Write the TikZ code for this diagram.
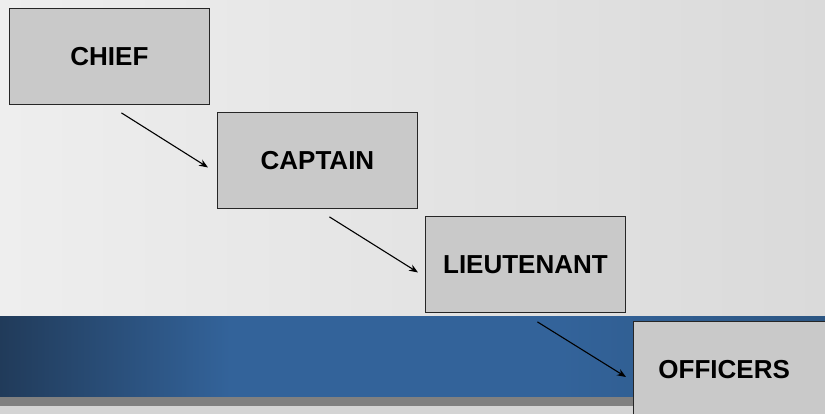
\documentclass[tikz,border=0pt]{standalone}
\usepackage{fontspec}
\setmainfont{Liberation Sans}
\usetikzlibrary{arrows.meta}

\definecolor{bgLeft}{HTML}{EEEEEE}
\definecolor{bgRight}{HTML}{DADADA}
\definecolor{boxGray}{HTML}{C9C9C9}
\definecolor{bandDark}{HTML}{213B5A}
\definecolor{bandMid}{HTML}{33639A}
\definecolor{bandEdge}{HTML}{2C5683}
\definecolor{stripGray}{HTML}{808080}
\definecolor{footGray}{HTML}{D4D4D4}

\begin{document}
\begin{tikzpicture}[x=1pt, y=-1pt, >={Stealth[length=9pt, width=7pt]},
    rankbox/.style={draw=black!85, fill=boxGray, line width=0.9pt,
        minimum width=200pt, minimum height=96pt, inner sep=0pt,
        anchor=north west, font=\fontsize{26}{30}\selectfont\bfseries},
    step line/.style={->, line width=1.1pt}]
    \useasboundingbox (0,0) rectangle (825,414);
    \clip (0,0) rectangle (825,414);

    % Background and blue band
    \shade[left color=bgLeft, right color=bgRight] (0,0) rectangle (825,414);
    \shade[left color=bandDark, right color=bandMid] (0,316) rectangle (230,397);
    \fill[bandMid] (230,316) rectangle (560,397);
    \shade[left color=bandMid, right color=bandEdge] (560,316) rectangle (825,397);
    \fill[stripGray] (0,397) rectangle (825,406);
    \fill[footGray] (0,406) rectangle (825,414);

    % Ranks
    \node[rankbox] (chief) at (9,8) {CHIEF};
    \node[rankbox] (captain) at (217,112) {CAPTAIN};
    \node[rankbox] (lieut) at (425,216) {LIEUTENANT};
    \node[rankbox, text width=175pt, align=left, inner xsep=25pt] (officers) at (633,321) {OFFICERS};

    % Steps down
    \coordinate (s1) at ([shift={(12,8)}]chief.south);
    \coordinate (e1) at ([shift={(-9,7)}]captain.west);
    \coordinate (s2) at ([shift={(12,8)}]captain.south);
    \coordinate (e2) at ([shift={(-7,8)}]lieut.west);
    \coordinate (s3) at ([shift={(12,9)}]lieut.south);
    \coordinate (e3) at (626,377);
    \draw[step line] (s1) -- (e1);
    \draw[step line] (s2) -- (e2);
    \draw[step line] (s3) -- (e3);
\end{tikzpicture}
\end{document}
